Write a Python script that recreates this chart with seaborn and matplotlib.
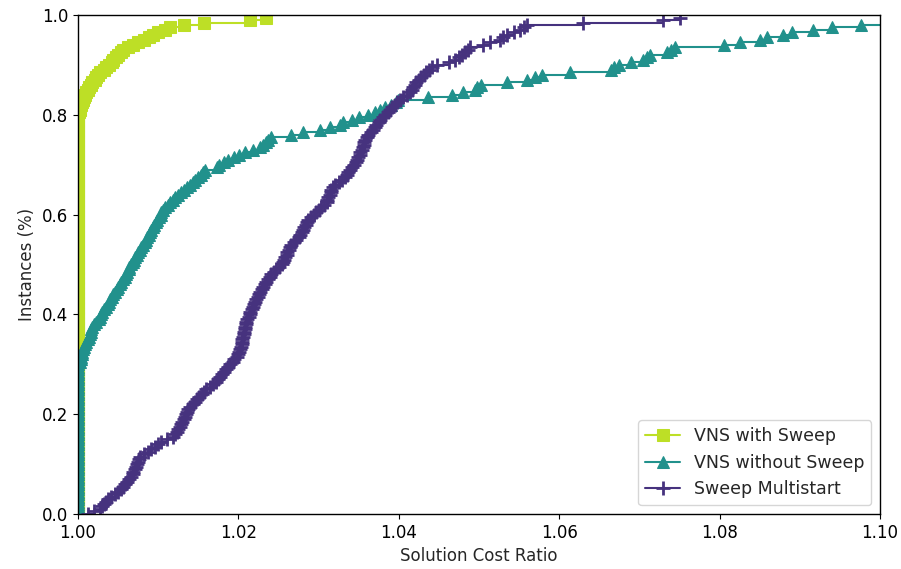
import numpy as np
import pandas as pd
import matplotlib
matplotlib.use("Agg")
import matplotlib.pyplot as plt
import seaborn as sns

# Sorted solution-cost ratios (best known / found) over the 200 benchmark instances.
VNS_SWEEP_RATIOS = [1.0] * 161 + [
    1.0001, 1.0002, 1.0003, 1.0004, 1.0005, 1.0006, 1.0007, 1.0009, 1.0010,
    1.0012, 1.0014, 1.0016, 1.0018, 1.0021, 1.0023, 1.0025, 1.0028, 1.0032, 1.0035,
    1.0038, 1.0042, 1.0044, 1.0047, 1.0050, 1.0053, 1.0056, 1.0062, 1.0068, 1.0075,
    1.0082, 1.0088, 1.0094, 1.0100, 1.0108, 1.0115, 1.0132, 1.0157, 1.0214, 1.0235,
]

VNS_NO_SWEEP_RATIOS = [1.0] * 61 + [
    1.0003, 1.0004, 1.0004, 1.0005, 1.0005, 1.0006, 1.0008, 1.0009, 1.0010,
    1.0012, 1.0014, 1.0015, 1.0016, 1.0016, 1.0017, 1.0020, 1.0023, 1.0026, 1.0027,
    1.0029, 1.0030, 1.0032, 1.0035, 1.0037, 1.0039, 1.0040, 1.0042, 1.0044, 1.0046,
    1.0048, 1.0050, 1.0052, 1.0054, 1.0056, 1.0058, 1.0060, 1.0061, 1.0063, 1.0064,
    1.0066, 1.0068, 1.0070, 1.0071, 1.0073, 1.0075, 1.0077, 1.0079, 1.0081, 1.0083,
    1.0085, 1.0086, 1.0088, 1.0090, 1.0091, 1.0093, 1.0095, 1.0097, 1.0099, 1.0101,
    1.0103, 1.0104, 1.0106, 1.0109, 1.0112, 1.0115, 1.0118, 1.0121, 1.0125, 1.0129,
    1.0132, 1.0136, 1.0139, 1.0143, 1.0146, 1.0150, 1.0153, 1.0156, 1.0158, 1.0173,
    1.0176, 1.0182, 1.0187, 1.0194, 1.0201, 1.0208, 1.0218, 1.0227, 1.0231, 1.0234,
    1.0237, 1.0240, 1.0266, 1.0281, 1.0302, 1.0314, 1.0327, 1.0331, 1.0341, 1.0350,
    1.0362, 1.0370, 1.0376, 1.0383, 1.0390, 1.0396, 1.0399, 1.0437, 1.0466, 1.0480,
    1.0495, 1.0497, 1.0503, 1.0535, 1.0560, 1.0570, 1.0578, 1.0613, 1.0665, 1.0668,
    1.0674, 1.0690, 1.0705, 1.0709, 1.0713, 1.0734, 1.0740, 1.0744, 1.0805, 1.0825,
    1.0850, 1.0859, 1.0879, 1.0890, 1.0916, 1.0940, 1.0976, 1.1080, 1.1120, 1.1310,
]

SWEEP_MULTISTART_RATIOS = [
    1.0012, 1.0020, 1.0028, 1.0030, 1.0033, 1.0035, 1.0037, 1.0041, 1.0046, 1.0050,
    1.0054, 1.0056, 1.0058, 1.0061, 1.0064, 1.0066, 1.0068, 1.0069, 1.0071, 1.0072,
    1.0073, 1.0075, 1.0076, 1.0077, 1.0082, 1.0087, 1.0091, 1.0096, 1.0100, 1.0104,
    1.0111, 1.0118, 1.0121, 1.0123, 1.0125, 1.0127, 1.0129, 1.0130, 1.0132, 1.0133,
    1.0135, 1.0136, 1.0137, 1.0140, 1.0143, 1.0146, 1.0148, 1.0151, 1.0154, 1.0157,
    1.0160, 1.0164, 1.0168, 1.0172, 1.0175, 1.0177, 1.0180, 1.0182, 1.0185, 1.0187,
    1.0190, 1.0193, 1.0195, 1.0198, 1.0200, 1.0201, 1.0202, 1.0203, 1.0204, 1.0205,
    1.0205, 1.0206, 1.0207, 1.0207, 1.0208, 1.0208, 1.0209, 1.0210, 1.0211, 1.0213,
    1.0214, 1.0215, 1.0217, 1.0218, 1.0220, 1.0221, 1.0222, 1.0224, 1.0226, 1.0227,
    1.0229, 1.0231, 1.0233, 1.0235, 1.0237, 1.0239, 1.0241, 1.0244, 1.0247, 1.0250,
    1.0254, 1.0256, 1.0257, 1.0258, 1.0260, 1.0261, 1.0263, 1.0264, 1.0266, 1.0269,
    1.0272, 1.0275, 1.0277, 1.0279, 1.0280, 1.0282, 1.0284, 1.0286, 1.0287, 1.0290,
    1.0294, 1.0297, 1.0300, 1.0303, 1.0307, 1.0310, 1.0311, 1.0312, 1.0314, 1.0315,
    1.0316, 1.0318, 1.0321, 1.0325, 1.0329, 1.0333, 1.0335, 1.0337, 1.0339, 1.0341,
    1.0344, 1.0346, 1.0348, 1.0349, 1.0351, 1.0352, 1.0354, 1.0355, 1.0356, 1.0357,
    1.0358, 1.0360, 1.0362, 1.0365, 1.0368, 1.0370, 1.0372, 1.0375, 1.0377, 1.0380,
    1.0383, 1.0386, 1.0389, 1.0392, 1.0395, 1.0398, 1.0401, 1.0405, 1.0410, 1.0414,
    1.0416, 1.0418, 1.0420, 1.0422, 1.0425, 1.0428, 1.0431, 1.0434, 1.0438, 1.0441,
    1.0447, 1.0463, 1.0470, 1.0475, 1.0479, 1.0482, 1.0486, 1.0489, 1.0505, 1.0514,
    1.0526, 1.0530, 1.0535, 1.0543, 1.0551, 1.0556, 1.0560, 1.0630, 1.0730, 1.0750,
]

SERIES_NAMES = ["VNS with Sweep", "VNS without Sweep", "Sweep Multistart"]
SERIES_COLORS = ["#bddf26", "#21918c", "#46327e"]
SERIES_MARKERS = ["s", "^", "+"]

X_TICKS = [1.00, 1.02, 1.04, 1.06, 1.08, 1.10]
Y_TICKS = [0.0, 0.2, 0.4, 0.6, 0.8, 1.0]

sns.set_style("ticks")
plt.rcParams.update({
    "font.family": ["DejaVu Sans"],
    "font.size": 12,
    "axes.edgecolor": "black",
    "axes.linewidth": 1.0,
    "xtick.color": "black",
    "ytick.color": "black",
    "xtick.direction": "out",
    "ytick.direction": "out",
})

fig, ax = plt.subplots(figsize=(9.01, 5.69), dpi=100)
fig.subplots_adjust(left=0.0866, right=0.9767, top=0.9736, bottom=0.0967)

all_ratios = [VNS_SWEEP_RATIOS, VNS_NO_SWEEP_RATIOS, SWEEP_MULTISTART_RATIOS]
for name, ratios, color, marker in zip(SERIES_NAMES, all_ratios, SERIES_COLORS, SERIES_MARKERS):
    ratios = np.sort(np.asarray(ratios))
    frame = pd.DataFrame({
        "ratio": ratios,
        "share": np.arange(len(ratios)) / len(ratios),
    })
    is_plus = marker == "+"
    sns.lineplot(
        data=frame, x="ratio", y="share", ax=ax,
        estimator=None, sort=False, drawstyle="steps-post",
        color=color, marker=marker, markersize=10 if is_plus else 9,
        markeredgecolor=color, markeredgewidth=2.0 if is_plus else 0.75,
        linewidth=1.5, label=name,
    )

ax.set_xlim(1.0, 1.1)
ax.set_ylim(0.0, 1.0)
ax.set_xticks(X_TICKS)
ax.set_yticks(Y_TICKS)
ax.set_xticklabels([f"{t:.2f}" for t in X_TICKS])
ax.set_yticklabels([f"{t:.1f}" for t in Y_TICKS])
ax.set_xlabel("Solution Cost Ratio")
ax.set_ylabel("Instances (%)")
ax.legend(loc="lower right", fontsize=12.5, frameon=True)

fig.savefig("out.png", dpi=100)
